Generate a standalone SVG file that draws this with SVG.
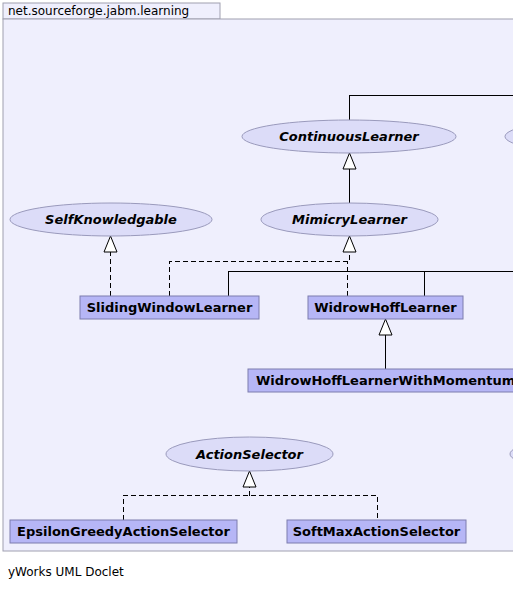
<svg xmlns="http://www.w3.org/2000/svg" width="513" height="589" viewBox="0 0 513 589">
<style>
.pkg{fill:#efeffd;stroke:#a0a0b0;stroke-width:1}
.iface{fill:#dcdcf8;stroke:#9a9abc;stroke-width:1}
.cls{fill:#b6b6f6;stroke:#7c7cae;stroke-width:1}
.lbl{font-family:"DejaVu Sans",sans-serif;font-size:13px;font-weight:bold;text-anchor:middle;fill:#000}
.it{font-style:oblique}
.plain{font-family:"DejaVu Sans",sans-serif;font-size:12px;fill:#000}
.edge{fill:none;stroke:#000;stroke-width:1;shape-rendering:crispEdges}
.dash{stroke-dasharray:5,3}
.tri{fill:#fff;stroke:#000;stroke-width:1}
</style>
<rect class="pkg" x="3" y="3" width="217" height="16"/>
<rect class="pkg" x="3" y="19" width="530" height="532"/>
<text class="plain" x="8" y="15">net.sourceforge.jabm.learning</text>
<text class="plain" x="8" y="576">yWorks UML Doclet</text>
<g id="connectors">
<path class="edge" d="M349.5,120 V95.5 H520"/>
<path class="edge" d="M349.5,203 V169"/>
<polygon class="tri" points="349.5,153 343,169 356,169"/>
<path class="edge dash" d="M110.5,296 V252"/>
<polygon class="tri" points="110.5,236 104,252 117,252"/>
<path class="edge dash" d="M169.5,296 V261.5 H349.5 V252"/>
<path class="edge dash" d="M347.5,296 V261.5"/>
<polygon class="tri" points="349.5,236 343,252 356,252"/>
<path class="edge" d="M228.5,296 V271.5 H520"/>
<path class="edge" d="M424.5,296 V271.5"/>
<path class="edge" d="M385.5,369 V335"/>
<polygon class="tri" points="385.5,319 379,335 392,335"/>
<path class="edge dash" d="M123.5,520 V495.5 H377.5 V520"/>
<path class="edge dash" d="M249.5,495.5 V487"/>
<polygon class="tri" points="249.5,471 243,487 256,487"/>
</g>
<g id="ContinuousLearner">
<ellipse class="iface" cx="349" cy="136.5" rx="107" ry="16.5"/>
<text class="lbl it" x="349" y="141">ContinuousLearner</text>
</g>
<g id="OffscreenInterface1">
<ellipse class="iface" cx="600" cy="136.5" rx="95" ry="16.5"/>
</g>
<g id="MimicryLearner">
<ellipse class="iface" cx="349.5" cy="219.5" rx="88.5" ry="16.5"/>
<text class="lbl it" x="349.5" y="224">MimicryLearner</text>
</g>
<g id="SelfKnowledgable">
<ellipse class="iface" cx="111" cy="219.5" rx="101" ry="16.5"/>
<text class="lbl it" x="111" y="224">SelfKnowledgable</text>
</g>
<g id="SlidingWindowLearner">
<rect class="cls" x="80" y="296" width="179" height="23"/>
<text class="lbl" x="169.5" y="312">SlidingWindowLearner</text>
</g>
<g id="WidrowHoffLearner">
<rect class="cls" x="308" y="296" width="155" height="23"/>
<text class="lbl" x="385.5" y="312">WidrowHoffLearner</text>
</g>
<g id="WidrowHoffLearnerWithMomentum">
<rect class="cls" x="248" y="369" width="283" height="23"/>
<text class="lbl" x="256" y="385" style="text-anchor:start">WidrowHoffLearnerWithMomentum</text>
</g>
<g id="ActionSelector">
<ellipse class="iface" cx="249.5" cy="454" rx="83.5" ry="17"/>
<text class="lbl it" x="249.5" y="458.5">ActionSelector</text>
</g>
<g id="OffscreenInterface2">
<ellipse class="iface" cx="600" cy="454" rx="90" ry="17"/>
</g>
<g id="EpsilonGreedyActionSelector">
<rect class="cls" x="10" y="520" width="227" height="23"/>
<text class="lbl" x="123.5" y="536">EpsilonGreedyActionSelector</text>
</g>
<g id="SoftMaxActionSelector">
<rect class="cls" x="287" y="520" width="179" height="23"/>
<text class="lbl" x="376.5" y="536">SoftMaxActionSelector</text>
</g>
</svg>
